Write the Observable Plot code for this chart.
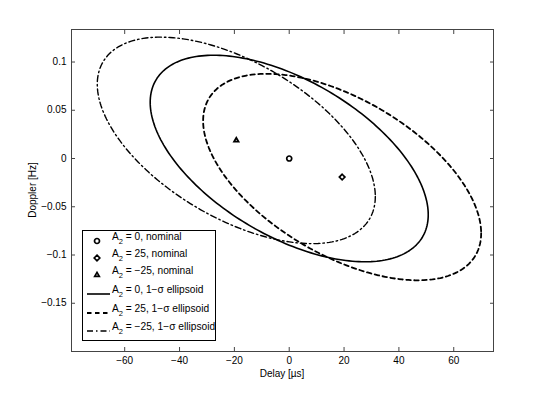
<!DOCTYPE html>
<html>
<head>
<meta charset="utf-8">
<script src="https://cdn.jsdelivr.net/npm/d3@7"></script>
<script src="https://cdn.jsdelivr.net/npm/@observablehq/plot@0.6"></script>
<style>
  html, body { margin: 0; padding: 0; background: #fff; }
  svg { font-family: "Liberation Sans", Arial, sans-serif; }
</style>
</head>
<body>
<div id="chart"></div>
<script>
// ---- data ----
const seriesNames = ["A2 = 0", "A2 = 25", "A2 = -25"];
const centerDelay = [0, 19.3, -19.3];          // µs
const centerDoppler = [0, -0.0192, 0.0188];    // Hz
const sigmaDelay = 50.7;                       // half-extent in delay (µs)
const sigmaDoppler = 0.107;                    // half-extent in Doppler (Hz)
const correlation = -0.544;                    // delay/Doppler correlation
const xTicks = [-60, -40, -20, 0, 20, 40, 60];
const yTicks = [-0.15, -0.1, -0.05, 0, 0.05, 0.1];
const markerSymbols = ["circle", "diamond2", "triangle2"];
const dashes = [null, "4.5,3.5", "6,3,1.5,3"];
const lineWidths = [1.6, 1.8, 1.4];
const legendLabels = [
  ["0", ", nominal"], ["25", ", nominal"], ["\u221225", ", nominal"],
  ["0", ", 1\u2212\u03c3 ellipsoid"], ["25", ", 1\u2212\u03c3 ellipsoid"], ["\u221225", ", 1\u2212\u03c3 ellipsoid"]
];

// nominal points
const nominal = seriesNames.map((s, i) => ({series: s, delay: centerDelay[i], doppler: centerDoppler[i], symbol: markerSymbols[i]}));

// 1-sigma ellipse outline from the covariance parameters
const phi = Math.acos(correlation);
const ellipses = seriesNames.map((s, i) => {
  const pts = [];
  const n = 240;
  for (let k = 0; k <= n; k++) {
    const t = 2 * Math.PI * k / n;
    pts.push({series: s, delay: centerDelay[i] + sigmaDelay * Math.cos(t),
              doppler: centerDoppler[i] + sigmaDoppler * Math.cos(t + phi)});
  }
  return pts;
});

const fmt = d => d3.format("")(d).replace("-", "\u2212");

const chart = Plot.plot({
  width: 545,
  height: 395,
  marginTop: 29,
  marginRight: 52,
  marginBottom: 44,
  marginLeft: 71,
  style: {fontFamily: "'Liberation Sans', Arial, sans-serif", fontSize: "10px", color: "#000", background: "#fff"},
  x: {domain: [-79.4, 74.5]},
  y: {domain: [-0.2, 0.1337]},
  marks: [
    Plot.frame({stroke: "#444", strokeWidth: 1}),
    Plot.axisX(xTicks, {anchor: "bottom", tickSize: -4, tickPadding: 9, stroke: "#444", tickFormat: fmt, fill: "#000", label: null}),
    Plot.axisX(xTicks, {anchor: "top", tickSize: -4, stroke: "#444", tickFormat: () => "", label: null}),
    Plot.axisY(yTicks, {anchor: "left", tickSize: -4, tickPadding: 9, stroke: "#444", tickFormat: fmt, fill: "#000", label: null}),
    Plot.axisY(yTicks, {anchor: "right", tickSize: -4, stroke: "#444", tickFormat: () => "", label: null}),
    ...ellipses.map((pts, i) => Plot.line(pts, {x: "delay", y: "doppler", stroke: "#000", strokeWidth: lineWidths[i], strokeDasharray: dashes[i], curve: "linear"})),
    ...nominal.map(d => Plot.dot([d], {x: "delay", y: "doppler", symbol: () => d.symbol, r: d.symbol === "triangle2" ? 2.2 : 2.5, stroke: "#000", strokeWidth: 1.7, fill: "none"}))
  ]
});

const svg = d3.select(chart);
// axis titles
svg.append("text").attr("x", 282).attr("y", 377).attr("text-anchor", "middle")
  .attr("font-size", 10).attr("fill", "#000").text("Delay [\u00b5s]");
svg.append("text").attr("transform", "translate(36,190) rotate(-90)").attr("text-anchor", "middle")
  .attr("font-size", 10).attr("fill", "#000").text("Doppler [Hz]");

// legend
const lg = svg.append("g").attr("text-anchor", "start");
lg.append("rect").attr("x", 82.5).attr("y", 230.5).attr("width", 133).attr("height", 110)
  .attr("fill", "#fff").attr("stroke", "#000").attr("stroke-width", 1);
const rowY = [241, 258, 275, 294, 313, 331];
const symGen = {circle: d3.symbolCircle, diamond2: d3.symbolDiamond2, triangle2: d3.symbolTriangle2};
rowY.forEach((y, i) => {
  if (i < 3) {
    const s = markerSymbols[i];
    const r = s === "triangle2" ? 2.2 : 2.5;
    lg.append("path").attr("transform", `translate(97,${y})`)
      .attr("d", d3.symbol(symGen[s], Math.PI * r * r)())
      .attr("fill", "none").attr("stroke", "#000").attr("stroke-width", 1.7);
  } else {
    lg.append("line").attr("x1", 87).attr("x2", 110).attr("y1", y).attr("y2", y)
      .attr("stroke", "#000").attr("stroke-width", lineWidths[i - 3]).attr("stroke-dasharray", dashes[i - 3]);
  }
  const t = lg.append("text").attr("x", 112).attr("y", y - 1).attr("font-size", 10.2).attr("fill", "#000").attr("text-anchor", "start");
  t.append("tspan").text("A");
  t.append("tspan").attr("dy", 3.5).attr("font-size", 7.5).text("2");
  t.append("tspan").attr("dy", -3.5).text(" = " + legendLabels[i][0] + legendLabels[i][1]);
});

document.getElementById("chart").appendChild(chart);
</script>
</body>
</html>
